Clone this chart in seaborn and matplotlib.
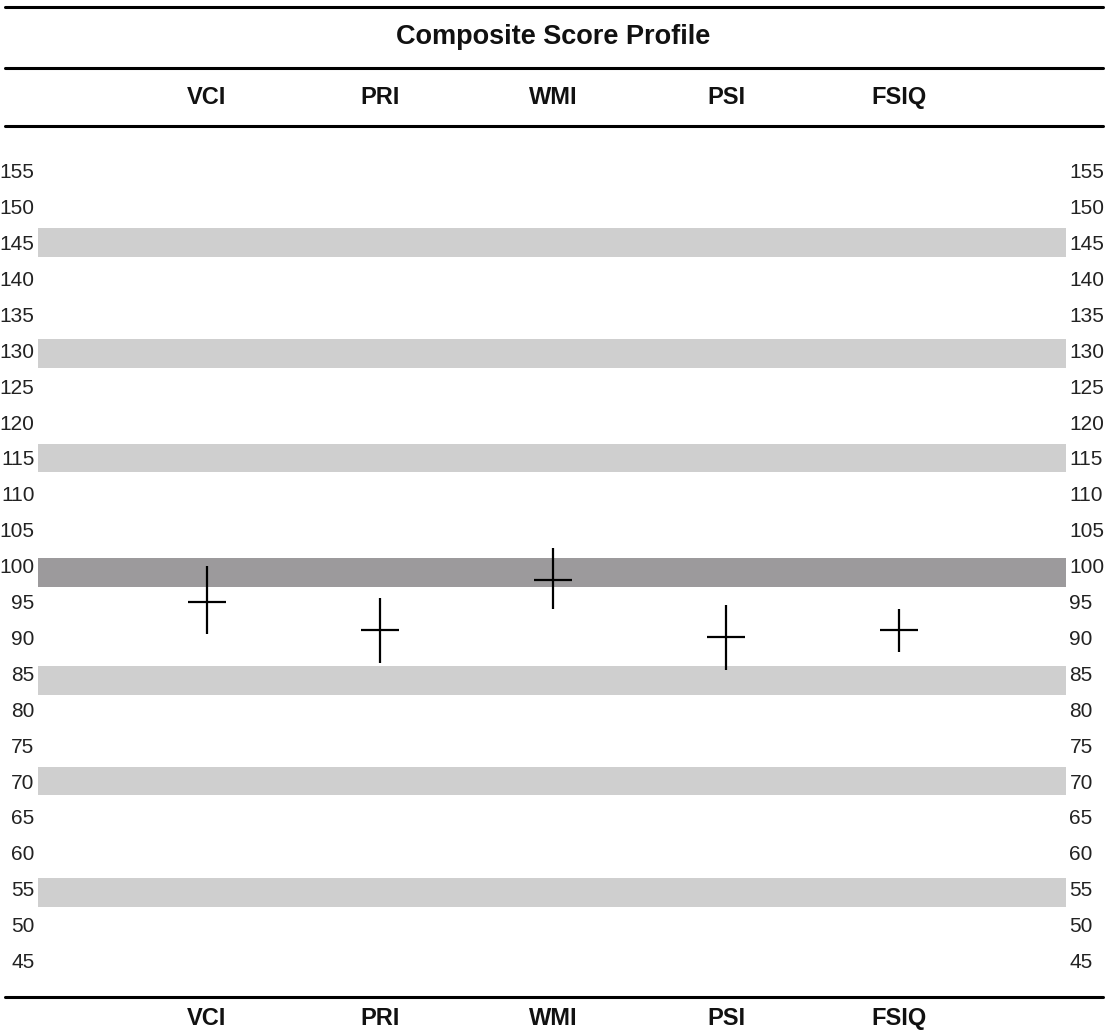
import numpy as np
import pandas as pd
import matplotlib
matplotlib.use("Agg")
import matplotlib.pyplot as plt
from matplotlib.lines import Line2D
import seaborn as sns

# composite scores with their confidence intervals
categories = ["VCI", "PRI", "WMI", "PSI", "FSIQ"]
scores = [95, 91, 98, 90, 91]
ci_low = [90.5, 86.5, 94, 85.5, 88]
ci_high = [100, 95.5, 102.5, 94.5, 94]

# shaded reference bands (lower / upper score)
band_low = [143, 127.5, 113, 97, 82, 68, 52.5]
band_high = [147, 131.5, 117, 101, 86, 72, 56.5]
band_dark = [False, False, False, True, False, False, False]

y_ticks = list(range(45, 160, 5))

df = pd.DataFrame({"test": categories, "score": scores,
                   "lo": ci_low, "hi": ci_high})

sns.set_theme(style="white")
plt.rcParams["font.family"] = ["Liberation Sans", "DejaVu Sans"]

W, H = 1113, 1030
fig = plt.figure(figsize=(W / 100, H / 100), dpi=100)
ax = fig.add_axes([38 / W, 1 - 997 / H, (1066 - 38) / W, (997 - 127) / H])

for lo, hi, dark in zip(band_low, band_high, band_dark):
    ax.axhspan(lo, hi, color="#9c9a9c" if dark else "#cfcfcf", lw=0, zorder=0)

sns.scatterplot(data=df, x="test", y="score", marker="_", s=720,
                color="black", linewidth=1.6, ax=ax, zorder=3)
ax.vlines(range(len(categories)), df["lo"], df["hi"], color="black",
          lw=1.6, zorder=3)

ax.set_xlim(-0.977, 4.965)
ax.set_ylim(39.92, 161.09)
ax.set_xlabel("")
ax.set_ylabel("")
for s in ax.spines.values():
    s.set_visible(False)

ax.set_yticks(y_ticks)
ax.set_yticklabels([str(v) for v in y_ticks])
ax.tick_params(axis="y", which="both", length=0, labelsize=15,
               labelcolor="#222222", labelleft=True, labelright=True, pad=2.5)

ax.set_xticks(range(len(categories)))
ax.set_xticklabels(categories, fontweight="bold")
ax.tick_params(axis="x", length=0, labelsize=17, labelcolor="#111111", pad=7.5)

top = ax.secondary_xaxis("top")
top.set_xticks(range(len(categories)))
top.set_xticklabels(categories, fontweight="bold")
top.tick_params(axis="x", length=0, labelsize=17, labelcolor="#111111", pad=13)
top.spines["top"].set_visible(False)

# horizontal rules across the page
for yp in [7, 68, 126, 997]:
    fig.add_artist(Line2D([5 / W, 1103 / W], [1 - yp / H, 1 - yp / H],
                          color="black", lw=2.2))

fig.text(553 / W, 1 - 37 / H, "Composite Score Profile", ha="center",
         va="center", fontsize=19.5, fontweight="bold", color="#111111")

fig.savefig("out.png", dpi=100)
